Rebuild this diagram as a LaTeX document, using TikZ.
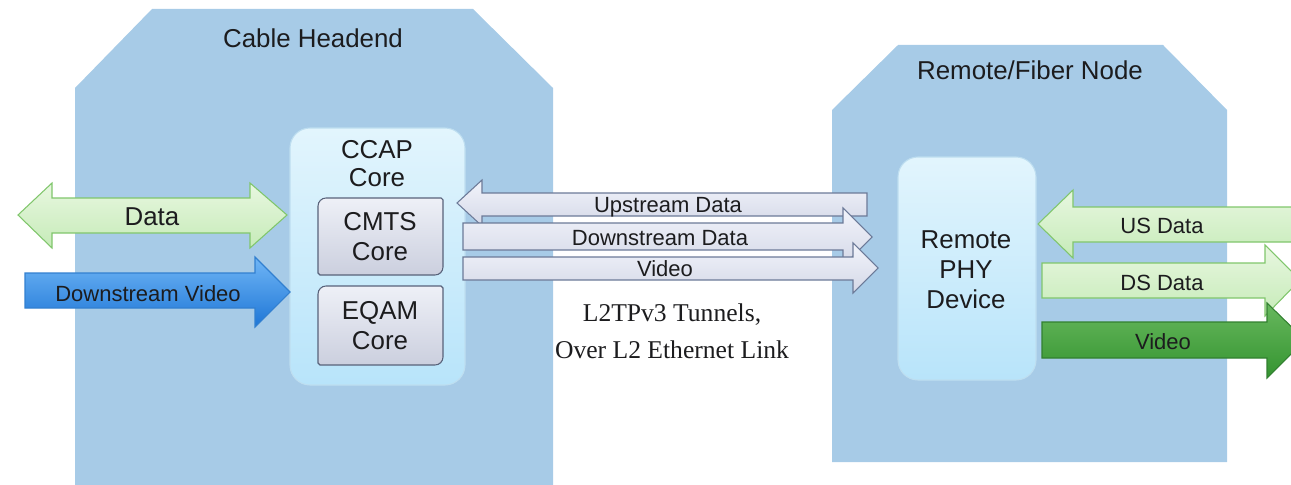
\documentclass[tikz,border=0pt]{standalone}
\usepackage{fontspec}
\setmainfont{Liberation Sans}
\newfontfamily\tunnelfont{Liberation Serif}
\definecolor{hubblue}{RGB}{167,203,231}
\definecolor{txt}{RGB}{28,28,30}
\definecolor{coretop}{RGB}{226,245,253}
\definecolor{corebot}{RGB}{184,228,250}
\definecolor{coreedge}{RGB}{190,222,240}
\definecolor{graytop}{RGB}{238,240,247}
\definecolor{graybot}{RGB}{203,207,222}
\definecolor{grayedge}{RGB}{88,98,122}
\definecolor{tuntop}{RGB}{242,244,251}
\definecolor{tunbot}{RGB}{212,216,231}
\definecolor{tunedge}{RGB}{108,122,152}
\definecolor{lgtop}{RGB}{232,247,224}
\definecolor{lgbot}{RGB}{198,235,184}
\definecolor{lgedge}{RGB}{128,198,108}
\definecolor{bltop}{RGB}{112,182,246}
\definecolor{blbot}{RGB}{30,118,214}
\definecolor{bledge}{RGB}{50,128,208}
\definecolor{dgtop}{RGB}{104,184,94}
\definecolor{dgbot}{RGB}{52,148,48}
\definecolor{dgedge}{RGB}{50,128,48}
\tikzset{
  x=0.75pt, y=-0.75pt,
  site/.style={fill=hubblue, draw=none},
  big/.style={font=\fontsize{19.4}{22}\selectfont, text=txt, inner sep=0pt, align=center},
  small/.style={font=\fontsize{16.5}{19}\selectfont, text=txt, inner sep=0pt},
  corebox/.style={top color=coretop, bottom color=corebot, draw=coreedge, line width=0.8pt},
  graybox/.style={top color=graytop, bottom color=graybot, draw=grayedge, line width=0.8pt},
  tunarrow/.style={top color=tuntop, bottom color=tunbot, draw=tunedge, line width=0.8pt, line join=miter},
  lgarrow/.style={top color=lgtop, bottom color=lgbot, draw=lgedge, line width=0.8pt},
  blarrow/.style={top color=bltop, bottom color=blbot, draw=bledge, line width=0.8pt},
  dgarrow/.style={top color=dgtop, bottom color=dgbot, draw=dgedge, line width=0.8pt},
}
\begin{document}
\begin{tikzpicture}
\useasboundingbox (0,0) rectangle (1291,485);
\clip (0,0) rectangle (1291,485);

% sites
\fill[site] (75,490) -- (75,88) -- (152,9) -- (473,9) -- (553,88) -- (553,490) -- cycle;
\fill[site] (832,462) -- (832,110) -- (898,45) -- (1163,45) -- (1227,110) -- (1227,462) -- cycle;
\node[big] (headend) at (313,38) {Cable Headend};
\node[big] (fibernode) at (1030,70) {Remote/Fiber Node};

% CCAP core
\draw[corebox, rounded corners=15pt] (290,128) rectangle (465,385);
\node[big, font=\fontsize{19.4}{21}\selectfont] (ccap) at (377,164) {CCAP\\Core};
\draw[graybox] (318,206) to[out=90,in=180] (326,198) -- (441,198) -- (443,200) -- (443,267)
  to[out=270,in=0] (435,275) -- (320,275) -- (318,273) -- cycle;
\node[big, font=\fontsize{19.4}{22.5}\selectfont] (cmts) at (380,237) {CMTS\\Core};
\draw[graybox] (318,294) to[out=90,in=180] (326,286) -- (441,286) -- (443,288) -- (443,357)
  to[out=270,in=0] (435,365) -- (320,365) -- (318,363) -- cycle;
\node[big, font=\fontsize{19.4}{22.5}\selectfont] (eqam) at (380,326) {EQAM\\Core};

% Remote PHY device
\draw[corebox, rounded corners=15pt] (898,157) rectangle (1036,380);
\node[big, font=\fontsize{19.4}{22.5}\selectfont] (rpd) at (966,270) {Remote\\PHY\\Device};

% headend side arrows
\draw[lgarrow] (18,215) -- (52,183) -- (52,198) -- (250,198) -- (250,183) -- (287,215)
  -- (250,248) -- (250,233) -- (52,233) -- (52,248) -- cycle;
\node[big] (data) at (152,217) {Data};
\draw[blarrow] (25,273) -- (255,273) -- (255,257) -- (290,292) -- (255,327) -- (255,308) -- (25,308) -- cycle;
\node[small] (dsvideo) at (148,294) {Downstream Video};

% tunnel arrows
\draw[tunarrow] (457,203) -- (482,180) -- (482,193) -- (867,193) -- (867,216) -- (482,216) -- (482,226) -- cycle;
\node[small] (usdata) at (668,207) {Upstream Data};
\draw[tunarrow] (463,223) -- (843,223) -- (843,208) -- (872,237) -- (843,266) -- (843,250) -- (463,250) -- cycle;
\node[small] (dsdata) at (660,238) {Downstream Data};
\draw[tunarrow] (463,257) -- (853,257) -- (853,243) -- (878,268) -- (853,293) -- (853,280) -- (463,280) -- cycle;
\node[small] (tvideo) at (665,269) {Video};

\node[font=\tunnelfont\fontsize{19.2}{28}\selectfont, text=txt, align=center, inner sep=0pt] (l2tp) at (672,331)
  {L2TPv3 Tunnels,\\Over L2 Ethernet Link};

% node side arrows
\draw[lgarrow] (1038,224) -- (1073,190) -- (1073,207) -- (1300,207) -- (1300,242) -- (1073,242) -- (1073,258) -- cycle;
\node[small] (rusdata) at (1162,226) {US Data};
\draw[lgarrow] (1042,263) -- (1265,263) -- (1265,245) -- (1300,280) -- (1265,316) -- (1265,298) -- (1042,298) -- cycle;
\node[small] (rdsdata) at (1162,283) {DS Data};
\draw[dgarrow] (1042,322) -- (1267,322) -- (1267,303) -- (1305,340) -- (1267,378) -- (1267,358) -- (1042,358) -- cycle;
\node[small] (rvideo) at (1163,342) {Video};
\end{tikzpicture}
\end{document}
